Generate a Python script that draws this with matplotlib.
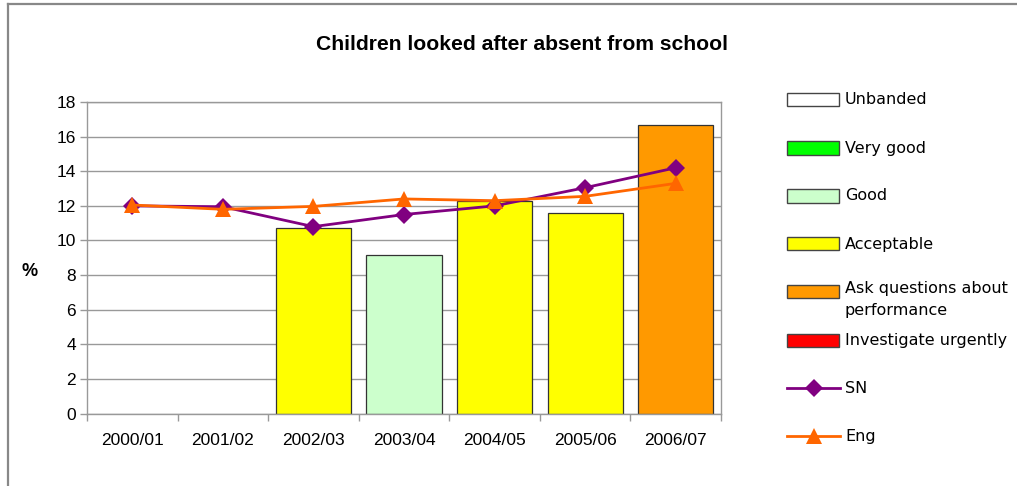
import numpy as np
import matplotlib
matplotlib.use("Agg")
import matplotlib.pyplot as plt
from matplotlib.patches import Rectangle
from matplotlib.lines import Line2D

# ---- data ----
categories = ["2000/01", "2001/02", "2002/03", "2003/04", "2004/05", "2005/06", "2006/07"]
bar_values = [np.nan, np.nan, 10.75, 9.15, 12.3, 11.6, 16.7]
bar_bands = [None, None, "Acceptable", "Good", "Acceptable", "Acceptable",
             "Ask questions about\nperformance"]
sn_values = [12.0, 11.95, 10.8, 11.5, 12.0, 13.05, 14.2]
eng_values = [12.05, 11.8, 11.97, 12.4, 12.3, 12.55, 13.3]
band_names = ["Unbanded", "Very good", "Good", "Acceptable",
              "Ask questions about\nperformance", "Investigate urgently"]
band_colors = ["#FFFFFF", "#00FF00", "#CCFFCC", "#FFFF00", "#FF9900", "#FF0000"]
yticks = [0, 2, 4, 6, 8, 10, 12, 14, 16, 18]
title = "Children looked after absent from school"

W, H = 1017, 486
fig = plt.figure(figsize=(W / 100, H / 100), dpi=100)

def fx(px):
    return px / W

def fy(py):
    return 1 - py / H

# outer border
fig.add_artist(Line2D([fx(8), fx(8)], [fy(4.5), fy(H + 5)], color="#888888", lw=1.6,
                      transform=fig.transFigure))
fig.add_artist(Line2D([fx(8), fx(W + 5)], [fy(4.5), fy(4.5)], color="#888888", lw=1.6,
                      transform=fig.transFigure))

left, right, top, bottom = 87, 721, 102, 413.6
ax = fig.add_axes([fx(left), fy(bottom), fx(right) - fx(left), fy(top) - fy(bottom)])

x = np.arange(len(categories))
color_map = dict(zip(band_names, band_colors))
colors = [color_map[b] if b else "#FFFFFF" for b in bar_bands]
ax.bar(x, bar_values, width=0.83, color=colors, edgecolor="#333333", linewidth=0.9, zorder=2)

ax.plot(x, sn_values, color="#800080", lw=2.0, marker="D", markersize=9,
        markeredgewidth=0, zorder=4, clip_on=False)
ax.plot(x, eng_values, color="#FF6600", lw=2.0, marker="^", markersize=11.5,
        markeredgewidth=0, zorder=5, clip_on=False)

ax.set_xlim(-0.5, len(categories) - 0.5)
ax.set_ylim(0, 18)
ax.set_yticks(yticks)
ax.set_yticklabels([str(v) for v in yticks], fontsize=12.5, family="Liberation Sans")
ax.set_xticks(x)
ax.set_xticklabels(categories, fontsize=12.5, family="Liberation Sans")
ax.set_xticks(np.arange(len(categories) + 1) - 0.5, minor=True)
ax.tick_params(axis="x", which="major", length=0, pad=14)
ax.tick_params(axis="x", which="minor", length=5, color="#999999", width=1.0)
ax.tick_params(axis="y", length=5, color="#999999", width=1.0, pad=3)
ax.grid(axis="y", color="#999999", lw=1.0, zorder=0)
ax.set_axisbelow(True)
for s in ax.spines.values():
    s.set_color("#999999")
    s.set_linewidth(1.0)

fig.text(fx(522), fy(45), title, ha="center", va="center", fontsize=15.2,
         fontweight="bold", family="Liberation Sans")
fig.text(fx(30), fy(272), "%", ha="center", va="center", fontsize=13,
         fontweight="bold", family="Liberation Sans")

# ---- legend (manual) ----
patch_y = [100, 148, 196, 244, 291, 340]
for name, col, py in zip(band_names, band_colors, patch_y):
    fig.add_artist(Rectangle((fx(787), fy(py + 6.5)), fx(839) - fx(787), fy(py - 6.5) - fy(py + 6.5),
                             facecolor=col, edgecolor="#444444", lw=1.0,
                             transform=fig.transFigure))
    if "\n" in name:
        fig.text(fx(845), fy(py - 10), name, ha="left", va="top", fontsize=11.5,
                 family="DejaVu Sans", linespacing=1.6)
    else:
        fig.text(fx(845), fy(py), name, ha="left", va="center", fontsize=11.5,
                 family="DejaVu Sans")

for name, col, mk, ms, py in [("SN", "#800080", "D", 9, 388), ("Eng", "#FF6600", "^", 11.5, 436)]:
    fig.add_artist(Line2D([fx(787), fx(840)], [fy(py), fy(py)], color=col, lw=2.0,
                          transform=fig.transFigure))
    fig.add_artist(Line2D([fx(813.5)], [fy(py)], color=col, marker=mk, markersize=ms,
                          markeredgewidth=0, transform=fig.transFigure))
    fig.text(fx(845), fy(py), name, ha="left", va="center", fontsize=11.5, family="DejaVu Sans")

fig.savefig("out.png", dpi=100)
